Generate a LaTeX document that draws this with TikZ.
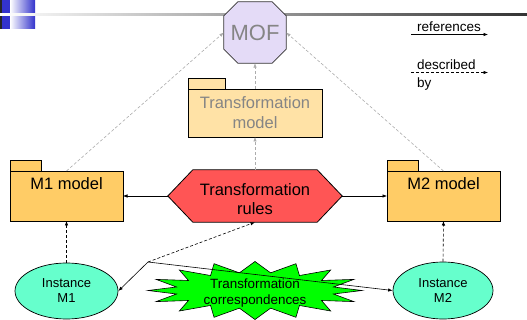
\documentclass[tikz,border=0pt]{standalone}
\usepackage{fontspec}
\setmainfont{Liberation Sans}
\usetikzlibrary{arrows.meta,shapes.geometric}
\definecolor{hblue}{HTML}{3333CC}
\definecolor{moffill}{HTML}{E4DBF7}
\definecolor{tmfill}{HTML}{FFE2A6}
\definecolor{pkgfill}{HTML}{FFCC66}
\definecolor{rulefill}{HTML}{FF5555}
\definecolor{instfill}{HTML}{66FFCC}
\definecolor{stargreen}{HTML}{00FF00}
\definecolor{fadetext}{HTML}{858585}
\tikzset{
  fsz/.style args={#1/#2}{font=\fontsize{#1}{#2}\selectfont},
  pkgbody/.style={draw=black, line width=0.8pt, fill=pkgfill, inner sep=0pt, outer sep=0pt,
    minimum width=113pt, text height=19pt, text depth=31pt, fsz=16.5/19.8},
  pkgtab/.style={draw=black, line width=0.8pt, fill=pkgfill, inner sep=0pt, outer sep=0pt,
    minimum height=11pt, anchor=south west},
  inst/.style={ellipse, draw=black, line width=0.7pt, fill=instfill, inner sep=0pt,
    align=center, fsz=13/15},
  tip/.style={-{Latex[length=4.5pt,width=3.5pt]}},
  metaref/.style={tip, draw=gray!65, line width=0.6pt, dash pattern=on 3pt off 2pt},
  descref/.style={tip, draw=black, line width=0.6pt, dash pattern=on 3pt off 2pt},
  solidref/.style={tip, draw=black, line width=0.6pt},
}
\begin{document}
\begin{tikzpicture}[x=1pt,y=-1pt]
\useasboundingbox (0,0) rectangle (527,320);
% header decoration
\fill[black!85] (0,0) rectangle (2,29);
\fill[hblue] (2,0) rectangle (10,14);
\shade[left color=white, right color=hblue] (10,0) rectangle (35,14);
\fill[hblue] (2,16.5) rectangle (10,29);
\shade[left color=white, right color=hblue] (10,16.5) rectangle (35,29);
\shade[left color=white, middle color=black!15, right color=black!80] (0,13.8) rectangle (527,15.8);

% MOF
\node[minimum width=62pt, minimum height=61pt, inner sep=0pt] (mof) at (255,32.5) {};
\filldraw[fill=moffill, draw=black!80, line width=0.7pt]
  ([xshift=14pt]mof.north west) -- ([xshift=-14pt]mof.north east)
  -- ([yshift=-14pt]mof.north east) -- ([yshift=14pt]mof.south east)
  -- ([xshift=-14pt]mof.south east) -- ([xshift=14pt]mof.south west)
  -- ([yshift=14pt]mof.south west) -- ([yshift=-14pt]mof.north west) -- cycle;
\node[fsz=22/24, text=fadetext] (moftext) at (mof) {MOF};

% Transformation model
\node[draw=black, line width=0.8pt, fill=tmfill, minimum width=134pt, minimum height=48pt,
  inner sep=0pt, outer sep=0pt, align=center, fsz=16.5/20, text=fadetext] (tmodel) at (255,113) {Transformation\\model};
\node[pkgtab, fill=tmfill, minimum width=37pt] (tmtab) at (tmodel.north west) {};

% M1 / M2 models
\node[pkgbody] (m1) at (66.5,196) {M1 model};
\node[pkgtab, minimum width=31pt] (m1tab) at (m1.north west) {};
\node[pkgbody] (m2) at (443.5,196) {M2 model};
\node[pkgtab, minimum width=31pt] (m2tab) at (m2.north west) {};

% Transformation rules
\node[minimum width=174pt, minimum height=52pt, inner sep=0pt] (rules) at (255,196) {};
\filldraw[fill=rulefill, draw=black, line width=0.8pt]
  (rules.west) -- ([xshift=25pt]rules.north west) -- ([xshift=-25pt]rules.north east)
  -- (rules.east) -- ([xshift=-25pt]rules.south east) -- ([xshift=25pt]rules.south west) -- cycle;
\node[align=center, fsz=16.5/19.5] (rulestext) at ([yshift=-3pt]rules.center) {Transformation\\rules};

% Instances
\node[inst, minimum width=103pt, minimum height=56pt] (i1) at (66.5,291) {Instance\\M1};
\node[inst, minimum width=100pt, minimum height=57pt] (i2) at (443,290.5) {Instance\\M2};

% Transformation correspondences
\filldraw[fill=stargreen, draw=black, line width=0.6pt]
  plot[samples at={0,...,31}, variable=\k]
  ({255+(mod(\k,2)==0 ? 107 : 80)*cos(\k*11.25)}, {290.5+(mod(\k,2)==0 ? 29 : 18)*sin(\k*11.25)}) -- cycle;
\node[align=center, fsz=13.4/16] (corr) at (255,293) {Transformation\\correspondences};

% connectors
\draw[metaref] (m1.north) -- (mof.west);
\draw[metaref] (m2.north) -- (mof.east);
\draw[metaref] (tmodel.north) -- (mof.south);
\draw[metaref] (rules.north) -- (tmodel.south);
\draw[solidref] (rules.west) -- (m1.east);
\draw[solidref] (rules.east) -- (m2.west);
\draw[descref] (i1.north) -- (m1.south);
\draw[descref] (i2.north) -- (m2.south);
\coordinate (kink) at (148,262);
\draw[descref] (kink) -- (rules.south);
\draw[solidref] (kink) -- (i1.east);
\draw[solidref] (kink) -- (i2.west);

% legend
\node[anchor=base west, inner sep=0pt, fsz=13.5/15] (lref) at (417,32) {references};
\coordinate (lrefa) at (411,34.5);
\coordinate (lrefb) at (488,34.5);
\draw[solidref] (lrefa) -- (lrefb);
\node[anchor=base west, inner sep=0pt, align=left, fsz=13.5/17.5] (ldesc) at (417,87.5) {described\\by};
\coordinate (ldesca) at (411,72.5);
\coordinate (ldescb) at (488,72.5);
\draw[descref] (ldesca) -- (ldescb);
\end{tikzpicture}
\end{document}
